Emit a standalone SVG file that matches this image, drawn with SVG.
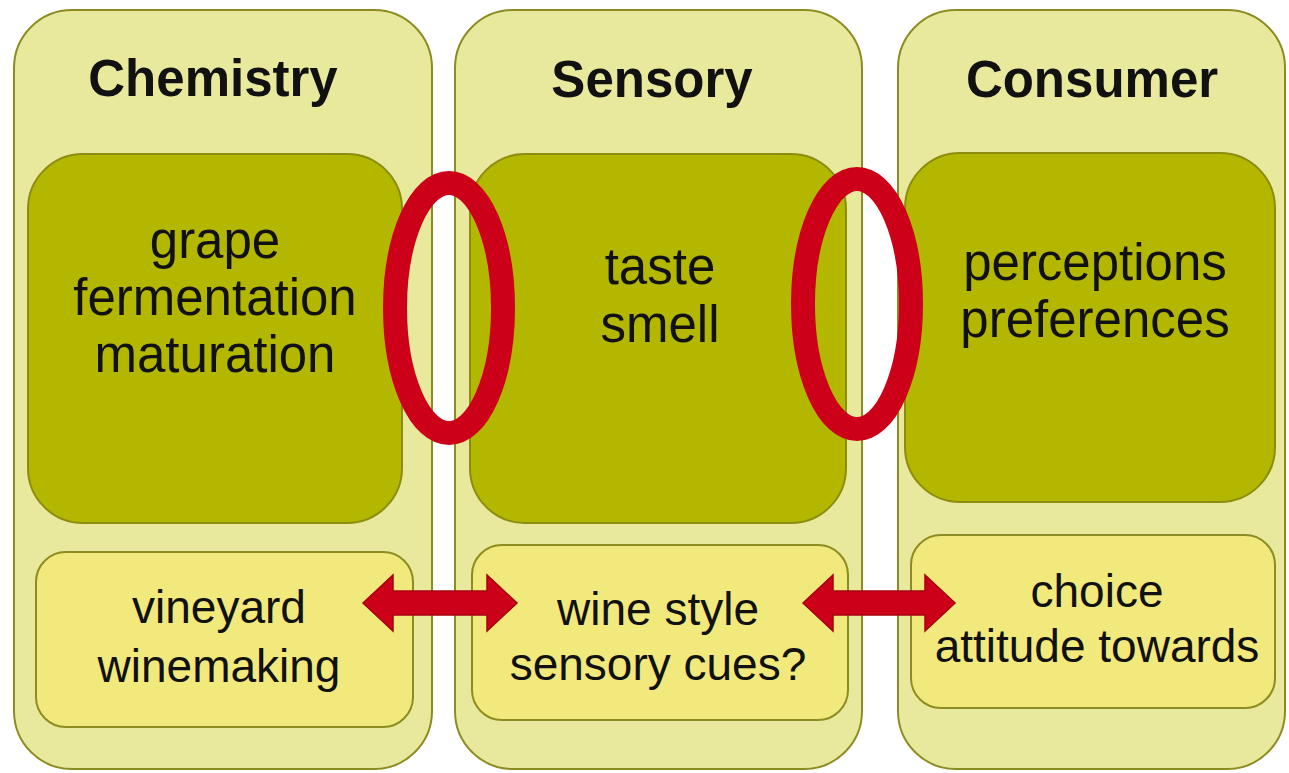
<svg xmlns="http://www.w3.org/2000/svg" width="1289" height="773" viewBox="0 0 1289 773">
<style>
.col{fill:#e8e99c;stroke:#8c8c22;stroke-width:2}
.dark{fill:#b3b700;stroke:#8c8c10;stroke-width:2}
.light{fill:#f2e97c;stroke:#8c8c22;stroke-width:2}
.title{font-family:"Liberation Sans",Arial,sans-serif;font-weight:bold;font-size:51px;fill:#111;text-anchor:middle}
.big{font-family:"Liberation Sans",Arial,sans-serif;font-size:51px;fill:#111;text-anchor:middle}
.small{font-family:"Liberation Sans",Arial,sans-serif;font-size:46px;fill:#111;text-anchor:middle}
.ring{fill:none;stroke:#cc0018;stroke-width:24}
.arrow{fill:#cc0018;stroke:#a8000f;stroke-width:1.5;stroke-linejoin:miter}
</style>
<rect width="1289" height="773" fill="#ffffff"/>
<g id="chemistry">
<rect class="col" x="14" y="10" width="418" height="759" rx="58" ry="58"/>
<text class="title" x="213" y="96">Chemistry</text>
</g>
<g id="sensory">
<rect class="col" x="455" y="10" width="407" height="759" rx="58" ry="58"/>
<text class="title" x="652" y="97">Sensory</text>
</g>
<g id="consumer">
<rect class="col" x="898" y="10" width="387" height="759" rx="58" ry="58"/>
<text class="title" x="1092" y="97">Consumer</text>
</g>
<g id="chem-process">
<rect class="dark" x="28" y="154" width="374" height="369" rx="55" ry="55"/>
<text class="big" x="215" y="258">grape</text>
<text class="big" x="215" y="315">fermentation</text>
<text class="big" x="215" y="372">maturation</text>
</g>
<g id="sens-perception">
<rect class="dark" x="470" y="154" width="376" height="369" rx="55" ry="55"/>
<text class="big" x="660" y="284">taste</text>
<text class="big" x="660" y="342">smell</text>
</g>
<g id="cons-perception">
<rect class="dark" x="905" y="153" width="370" height="349" rx="55" ry="55"/>
<text class="big" x="1095" y="280">perceptions</text>
<text class="big" x="1095" y="337">preferences</text>
</g>
<g id="chem-practice">
<rect class="light" x="36" y="552" width="377" height="175" rx="30" ry="30"/>
<text class="small" x="219" y="623">vineyard</text>
<text class="small" x="219" y="682">winemaking</text>
</g>
<g id="sens-style">
<rect class="light" x="472" y="545" width="376" height="175" rx="30" ry="30"/>
<text class="small" x="658" y="625">wine style</text>
<text class="small" x="658" y="680">sensory cues?</text>
</g>
<g id="cons-choice">
<rect class="light" x="911" y="535" width="364" height="173" rx="30" ry="30"/>
<text class="small" x="1097" y="607">choice</text>
<text class="small" x="1097" y="662">attitude towards</text>
</g>
<g id="links">
<ellipse class="ring" cx="449" cy="308" rx="54" ry="125"/>
<ellipse class="ring" cx="857" cy="304" rx="54" ry="125"/>
</g>
<g id="connectors">
<path class="arrow" d="M363,603 L393,575 L393,591 L487,591 L487,575 L517,603 L487,631 L487,615 L393,615 L393,631 Z"/>
<path class="arrow" d="M803,603 L833,575 L833,591 L925,591 L925,575 L955,603 L925,631 L925,615 L833,615 L833,631 Z"/>
</g>
</svg>
